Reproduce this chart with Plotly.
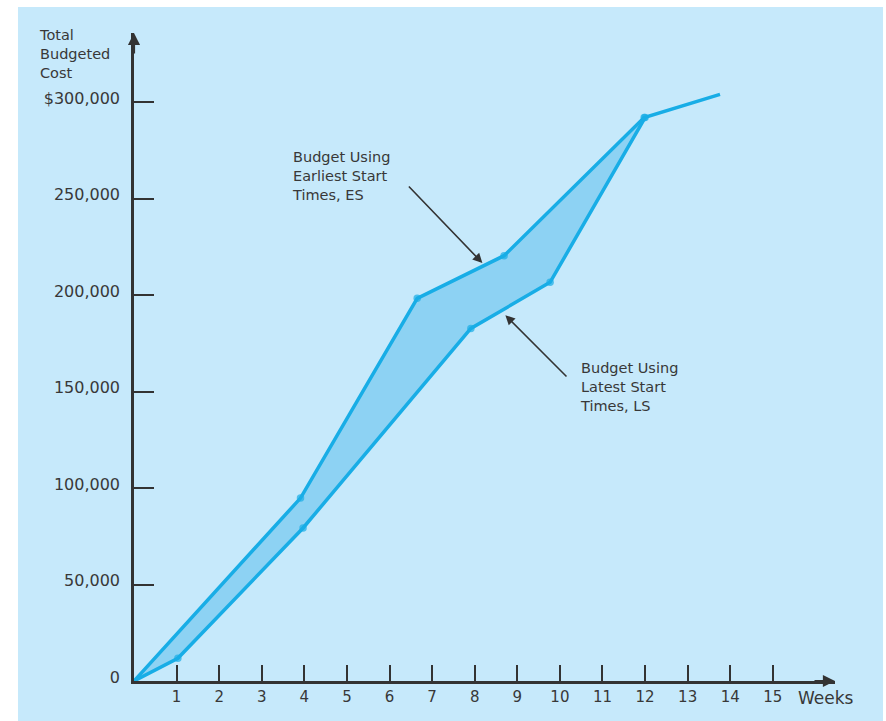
import plotly.graph_objects as go

# ---- data ----
es_weeks = [0, 3.91, 6.65, 8.69, 11.98, 13.76]
es_cost = [0, 94800, 198300, 220400, 292000, 304000]
ls_weeks = [0, 1.03, 3.97, 7.91, 9.77, 12.0]
ls_cost = [0, 11800, 79300, 182700, 206600, 292000]

x_ticks = list(range(1, 16))
y_ticks = [0, 50000, 100000, 150000, 200000, 250000, 300000]
y_ticktext = ["0", "50,000", "100,000", "150,000", "200,000", "250,000", "$300,000"]

y_title_lines = ["Total", "Budgeted", "Cost"]
es_label_lines = ["Budget Using", "Earliest Start", "Times, ES"]
ls_label_lines = ["Budget Using", "Latest Start", "Times, LS"]

BG = "#c6e9fb"
FILL = "#8dd2f3"
LINE = "#18ade6"
AX = "#333333"
TXT = "#383838"
FONT = "DejaVu Sans"

XMAX = 16.46
YMAX = 335800

fig = go.Figure()

# shaded band between ES and LS curves
fig.add_trace(go.Scatter(
    x=es_weeks + ls_weeks[::-1],
    y=es_cost + ls_cost[::-1],
    fill="toself", fillcolor=FILL, mode="lines",
    line=dict(width=0), hoverinfo="skip", showlegend=False))

es_sizes = [0, 7.5, 7.5, 7.5, 7.5, 0]
ls_sizes = [0, 7.5, 7.5, 7.5, 7.5, 7.5]

fig.add_trace(go.Scatter(
    x=es_weeks, y=es_cost, mode="lines+markers",
    line=dict(color=LINE, width=3.5),
    marker=dict(color=LINE, size=es_sizes, line=dict(width=0)),
    showlegend=False, name="ES"))
fig.add_trace(go.Scatter(
    x=ls_weeks, y=ls_cost, mode="lines+markers",
    line=dict(color=LINE, width=3.5),
    marker=dict(color=LINE, size=ls_sizes, line=dict(width=0)),
    showlegend=False, name="LS"))

annotations = []

# axis arrowheads
annotations.append(dict(x=0, y=YMAX, xref="x", yref="y", text="", showarrow=True,
                        ax=0, ay=22, arrowhead=2, arrowsize=1.1, arrowwidth=2.2,
                        arrowcolor=AX, standoff=0))
annotations.append(dict(x=XMAX, y=0, xref="x", yref="y", text="", showarrow=True,
                        ax=-22, ay=0, arrowhead=2, arrowsize=1.1, arrowwidth=2.2,
                        arrowcolor=AX, standoff=0))

# y-axis title, placed in paper coordinates
annotations.append(dict(x=-0.139, y=1.012, xref="paper", yref="paper",
                        text="<br>".join(y_title_lines),
                        showarrow=False, xanchor="left", yanchor="top", align="left",
                        font=dict(family=FONT, size=14.5, color=TXT)))

# x-axis unit label
annotations.append(dict(x=15.55, y=0, xref="x", yref="y", text="Weeks",
                        showarrow=False, xanchor="left", yanchor="middle",
                        yshift=-17, font=dict(family=FONT, size=17, color=TXT)))

# callout labels
annotations.append(dict(x=3.66, y=276500, xref="x", yref="y",
                        text="<br>".join(es_label_lines),
                        showarrow=False, xanchor="left", yanchor="top", align="left",
                        font=dict(family=FONT, size=14.5, color=TXT)))
annotations.append(dict(x=10.43, y=167300, xref="x", yref="y",
                        text="<br>".join(ls_label_lines),
                        showarrow=False, xanchor="left", yanchor="top", align="left",
                        font=dict(family=FONT, size=14.5, color=TXT)))

# callout arrows
annotations.append(dict(x=8.18, y=216600, ax=6.42, ay=257000, xref="x", yref="y",
                        axref="x", ayref="y", text="", showarrow=True, arrowhead=2,
                        arrowsize=1.2, arrowwidth=1.6, arrowcolor=AX, standoff=0))
annotations.append(dict(x=8.72, y=189600, ax=10.19, ay=157000, xref="x", yref="y",
                        axref="x", ayref="y", text="", showarrow=True, arrowhead=2,
                        arrowsize=1.2, arrowwidth=1.6, arrowcolor=AX, standoff=0))

fig.update_layout(
    width=886, height=721,
    margin=dict(l=134, r=51, t=33, b=40, autoexpand=False),
    paper_bgcolor="white",
    plot_bgcolor=BG,
    showlegend=False,
    annotations=annotations,
    shapes=[dict(type="rect", xref="paper", yref="paper",
                 x0=-0.1655, x1=1.0685, y0=-0.08, y1=1.040,
                 fillcolor=BG, line=dict(width=0), layer="below")],
    xaxis=dict(range=[0, XMAX], tickmode="array", tickvals=x_ticks,
               ticktext=[str(v) for v in x_ticks],
               ticks="inside", ticklen=16, tickwidth=2, tickcolor=AX,
               showline=True, linecolor=AX, linewidth=2.5,
               showgrid=False, zeroline=False,
               tickfont=dict(family=FONT, size=15, color=TXT)),
    yaxis=dict(range=[0, YMAX], tickmode="array", tickvals=y_ticks,
               ticktext=y_ticktext,
               ticks="inside", ticklen=20, tickwidth=2, tickcolor=AX,
               showline=True, linecolor=AX, linewidth=2.5,
               showgrid=False, zeroline=False, ticklabelshift=-4,
               ticklabelstandoff=8,
               tickfont=dict(family=FONT, size=16, color=TXT)),
)

fig.write_html("out.html")
